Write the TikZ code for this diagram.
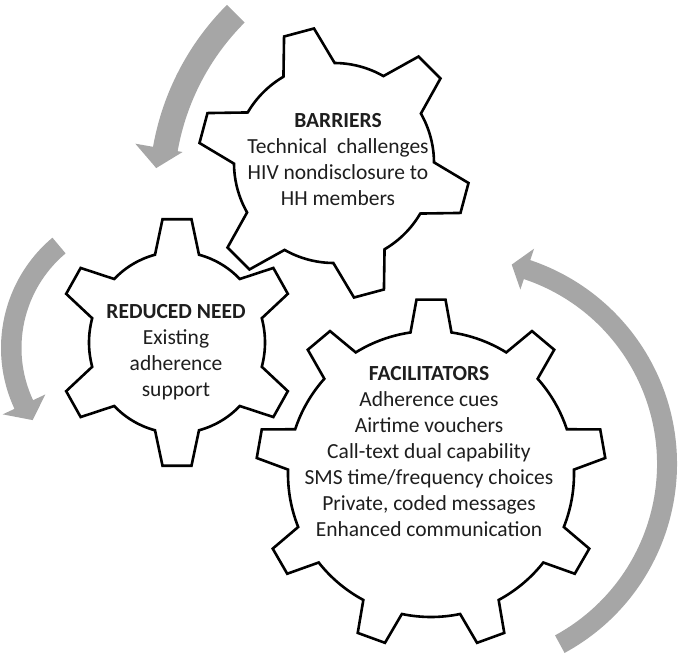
\documentclass[tikz,border=0pt]{standalone}
\usepackage{fontspec}
\setmainfont{Carlito}
\definecolor{arrowgray}{RGB}{166,166,166}
\definecolor{textdark}{RGB}{30,30,30}
\tikzset{
  gearline/.style={draw=black, line width=2.6pt, fill=white, line join=miter},
  cyclearrow/.style={fill=arrowgray, draw=none},
  geartext/.style={align=center, text=textdark, font=\fontsize{21.5}{26}\selectfont, inner sep=0pt}
}
% #1 cx, #2 cy (pixels down), #3 teeth, #4 rotation, #5 tip radius, #6 root radius,
% #7 tip half width, #8 base half width, #9 yscale
\newcommand\drawgear[9]{%
  \pgfmathsetmacro\gp{360/#3}%
  \pgfmathsetmacro\gat{asin(#7/#5)}%
  \pgfmathsetmacro\gab{asin(#8/#6)}%
  \pgfmathtruncatemacro\gn{#3-1}%
  \begin{scope}[shift={(#1,-#2)}, yscale=#9]
  \draw[gearline] ({#4-\gab}:#6)
    foreach \k in {0,...,\gn} {
      -- ({#4+\k*\gp-\gat}:#5) -- ({#4+\k*\gp+\gat}:#5) -- ({#4+\k*\gp+\gab}:#6)
      arc[start angle={#4+\k*\gp+\gab}, end angle={#4+(\k+1)*\gp-\gab}, radius=#6]
    } -- cycle;
  \end{scope}
}
% #1 cx, #2 cy, #3 rin, #4 rout, #5 tail angle, #6 head base angle, #7 head in, #8 head out, #9 tip angle
\newcommand\drawcyclearrow[9]{%
  \begin{scope}[shift={(#1,-#2)}]
  \fill[cyclearrow] ({#5}:#4) arc[start angle={#5}, end angle={#6}, radius=#4]
    -- ({#6}:#8) -- ({#9}:{(#7+#8)/2}) -- ({#6}:#7) -- ({#6}:#3)
    arc[start angle={#6}, end angle={#5}, radius=#3] -- cycle;
  \end{scope}
}
\begin{document}
\begin{tikzpicture}[x=1pt,y=1pt]
\useasboundingbox (0,0) rectangle (681,-658);
% cycle arrows
\drawcyclearrow{415}{193}{241}{266}{135}{170}{236}{284}{174.5}
\drawcyclearrow{145}{348}{123.5}{144}{130}{205}{110}{157}{212.7}
\drawcyclearrow{462}{464}{195}{215}{-61.5}{71.5}{184}{227}{76}
% gears
\drawgear{334}{163}{6}{45}{136}{100}{15.5}{26.5}{1}
\drawgear{177}{342.5}{6}{30}{120.5}{88}{14.5}{22}{1.03}
\drawgear{431}{474}{9}{90}{175}{143}{14.5}{20.5}{1}
% texts
\node[geartext] (barriers) at (338,-160) {\textbf{BARRIERS}\\Technical\ \ challenges\\HIV nondisclosure to\\HH members};
\node[geartext] (reduced) at (176,-352) {\textbf{REDUCED NEED}\\Existing\\adherence\\support};
\node[geartext] (facil) at (429,-452) {\textbf{FACILITATORS}\\Adherence cues\\Airtime vouchers\\Call-text dual capability\\SMS time/frequency choices\\Private, coded messages\\Enhanced communication};
\end{tikzpicture}
\end{document}
